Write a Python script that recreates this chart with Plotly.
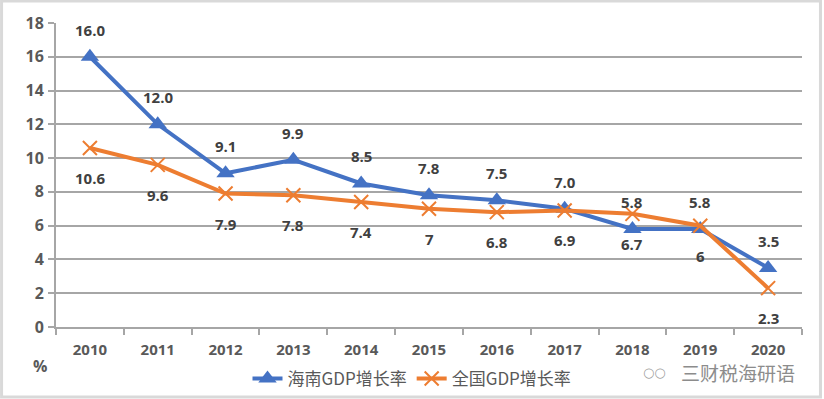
import plotly.graph_objects as go

years = ["2010", "2011", "2012", "2013", "2014", "2015", "2016", "2017", "2018", "2019", "2020"]
hainan = [16.0, 12.0, 9.1, 9.9, 8.5, 7.8, 7.5, 7.0, 5.8, 5.8, 3.5]
national = [10.6, 9.6, 7.9, 7.8, 7.4, 7.0, 6.8, 6.9, 6.7, 6.0, 2.3]
hainan_labels = ["16.0", "12.0", "9.1", "9.9", "8.5", "7.8", "7.5", "7.0", "5.8", "5.8", "3.5"]
national_labels = ["10.6", "9.6", "7.9", "7.8", "7.4", "7", "6.8", "6.9", "6.7", "6", "2.3"]
yticks = [0, 2, 4, 6, 8, 10, 12, 14, 16, 18]

W, H = 824, 399
L, R, T, B = 55.5, 21.5, 23, 72
pw, ph = W - L - R, H - T - B

BLUE = "#4472C4"
ORANGE = "#ED7D31"
TXT = "#404040"
FONT = "Open Sans"

fig = go.Figure()
fig.add_trace(go.Scatter(
    x=years, y=hainan, name="海南GDP增长率", mode="lines+markers",
    line=dict(color=BLUE, width=4),
    marker=dict(symbol="triangle-up", size=16, color=BLUE),
))
fig.add_trace(go.Scatter(
    x=years, y=national, name="全国GDP增长率", mode="lines+markers",
    line=dict(color=ORANGE, width=4),
    marker=dict(symbol="x-thin", size=14, color=ORANGE, line=dict(color=ORANGE, width=2)),
))

anns = []
for i, (v, t) in enumerate(zip(hainan, hainan_labels)):
    anns.append(dict(x=i, y=v, xref="x", yref="y", text=t, showarrow=False, yshift=27,
                     xanchor="center", yanchor="middle",
                     font=dict(family=FONT, size=15, color=TXT, weight="bold")))
for i, (v, t) in enumerate(zip(national, national_labels)):
    anns.append(dict(x=i, y=v, xref="x", yref="y", text=t, showarrow=False, yshift=-30,
                     xanchor="center", yanchor="middle",
                     font=dict(family=FONT, size=15, color=TXT, weight="bold")))
anns.append(dict(xref="paper", yref="paper", x=(39 - L) / pw, y=(H - B - 366) / ph,
                 xanchor="center", yanchor="middle",
                 text="%", showarrow=False,
                 font=dict(family=FONT, size=16, color="#595959", weight="bold")))
anns.append(dict(xref="paper", yref="paper", x=(655 - L) / pw, y=(H - B - 372) / ph,
                 xanchor="center", yanchor="middle",
                 text="\u25cb\u25cb", showarrow=False,
                 font=dict(family="DejaVu Sans", size=13, color="#a0a0a0")))
anns.append(dict(xref="paper", yref="paper", x=(738 - L) / pw, y=(H - B - 372) / ph,
                 xanchor="center", yanchor="middle",
                 text="三财税海研语", showarrow=False,
                 font=dict(family="Noto Sans CJK SC", size=19, color="#8c8c8c")))

shapes = [dict(type="rect", xref="paper", yref="paper",
               x0=(1 - L) / pw, x1=(W - 3 - L) / pw,
               y0=(H - B - (H - 2)) / ph, y1=(H - B - 1) / ph,
               line=dict(color="#d9d9d9", width=3), layer="below")]

fig.update_layout(
    width=W, height=H,
    margin=dict(l=L, r=R, t=T, b=B, autoexpand=False),
    paper_bgcolor="white", plot_bgcolor="white",
    font=dict(family=FONT, size=14, color="#595959"),
    showlegend=True,
    legend=dict(orientation="h", x=0.5, xanchor="center", xref="container",
                y=(H - 361) / H, yref="container", yanchor="top",
                bgcolor="rgba(0,0,0,0)",
                font=dict(family="Noto Sans CJK SC", size=17, color="#595959"),
                tracegroupgap=0),
    annotations=anns,
    shapes=shapes,
    xaxis=dict(type="category", showgrid=False, showline=True, linecolor="#a6a6a6", linewidth=2,
               ticks="outside", tickson="boundaries", ticklen=6, tickwidth=2, tickcolor="#a6a6a6",
               ticklabelstandoff=8,
               tickfont=dict(family=FONT, size=15, color="#595959", weight="bold"),
               range=[-0.5, 10.5]),
    yaxis=dict(range=[0, 18], tickvals=yticks, showgrid=True, gridcolor="#a6a6a6", gridwidth=2,
               showline=True, linecolor="#a6a6a6", linewidth=2, zeroline=False,
               ticks="outside", ticklen=6, tickwidth=2, tickcolor="#a6a6a6",
               ticklabelstandoff=1,
               tickfont=dict(family=FONT, size=16, color="#595959", weight="bold")),
)

fig.write_html("out.html", config={"displayModeBar": False},
               post_script="document.body.style.margin='0';document.body.style.padding='0';")
